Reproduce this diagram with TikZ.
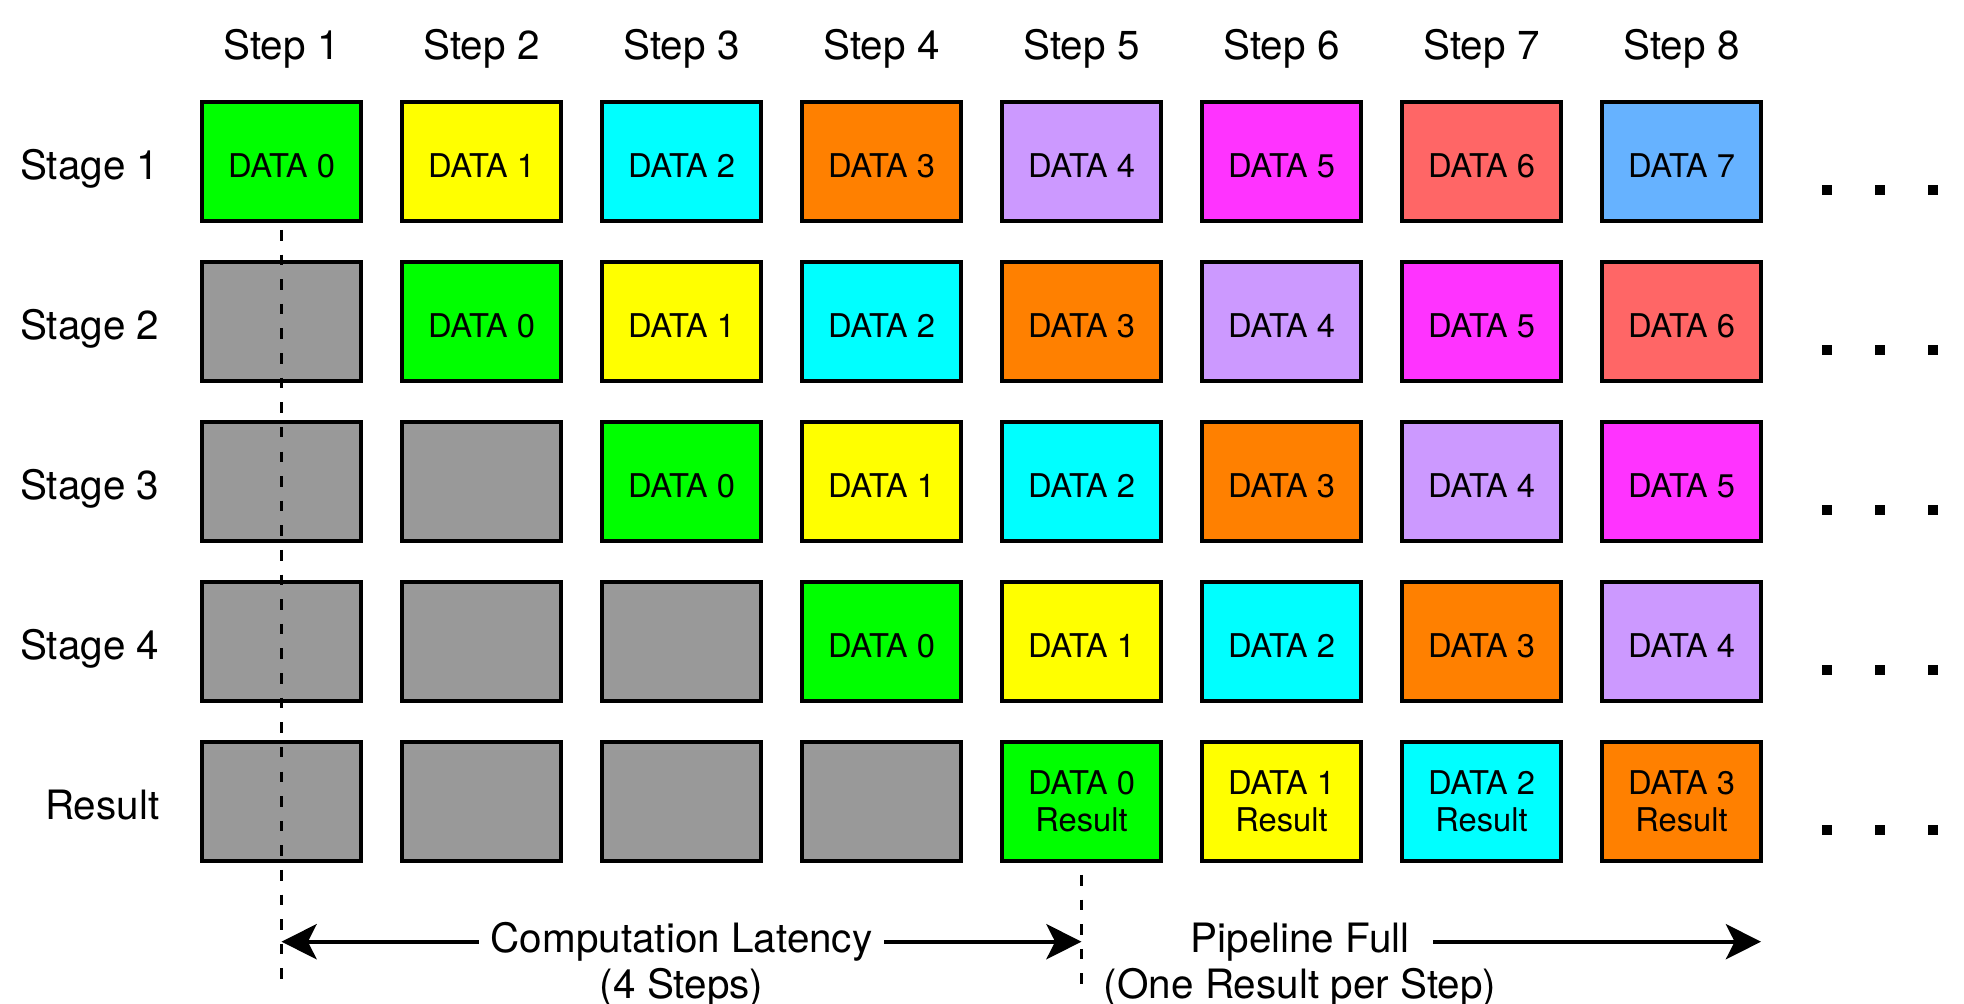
\documentclass[tikz,border=0pt]{standalone}
\usepackage{fontspec}
\setmainfont{TeX Gyre Heros}
\usetikzlibrary{arrows.meta}

\definecolor{data0}{HTML}{00FF00}
\definecolor{data1}{HTML}{FFFF00}
\definecolor{data2}{HTML}{00FFFF}
\definecolor{data3}{HTML}{FF8000}
\definecolor{data4}{HTML}{CC99FF}
\definecolor{data5}{HTML}{FF33FF}
\definecolor{data6}{HTML}{FF6666}
\definecolor{data7}{HTML}{66B2FF}
\definecolor{idle}{HTML}{999999}

\begin{document}
\begin{tikzpicture}[x=0.01cm, y=-0.01cm, line width=1.1pt,
		>={Stealth[length=10pt,width=10pt,inset=2.5pt]},
		cell/.style={draw, minimum width=1.59cm, minimum height=1.19cm, inner sep=0pt,
			align=center, font=\fontsize{9.3}{10.4}\selectfont},
		head/.style={font=\fontsize{11.5}{13.5}\selectfont},
		guide/.style={dash pattern=on 3pt off 4pt}]
		\useasboundingbox (0,0) rectangle (1964,1004);
		
		\foreach \i in {1,...,8}
			\node[head, anchor=base] (step-\i) at ({281.5+200*(\i-1)},60) {Step \i};
		
		\foreach \j/\name in {1/Stage 1,2/Stage 2,3/Stage 3,4/Stage 4,5/Result} {
			\pgfmathsetmacro{\yc}{161.5+160*(\j-1)}
			\node[head, anchor=base east] (row-\j) at (173,\yc+18.5) {\name};
			\foreach \i in {1,...,8} {
				\pgfmathsetmacro{\xc}{281.5+200*(\i-1)}
				\pgfmathtruncatemacro{\d}{\i-\j}
				\ifnum\d<0
					\node[cell, fill=idle] (box-\j-\i) at (\xc,\yc) {};
				\else
					\ifnum\j=5
						\node[cell, fill=data\d] (box-\j-\i) at (\xc,\yc) {DATA \d\\Result};
					\else
						\node[cell, fill=data\d, text height=8.9pt, text depth=0pt] (box-\j-\i) at (\xc,\yc) {DATA \d};
					\fi
				\fi
			}
			% dots to the right of each row
			\foreach \x in {1826.7,1880,1933.3}
				\fill ({\x-5},{\yc+24}) rectangle +(10,10);
		}
		
		\coordinate (lat-l) at (281.5,941.7);
		\coordinate (lat-r) at (1081.5,941.7);
		\coordinate (full-r) at (1761,941.7);
		\coordinate (cut-1) at (281.5,985);
		\coordinate (cut-5) at (1081.5,985);
		
		\draw[guide] (box-1-1.south) ++(0,7) -- (cut-1);
		\draw[guide] (box-5-5.south) ++(0,12) -- (cut-5);
		
		\draw[<->] (lat-l) -- (lat-r) node[midway, head, fill=white] (lat-txt) {Computation Latency};
		\node[head, anchor=base] (lat-sub) at ([yshift=-0.46cm]lat-txt.base) {(4 Steps)};
		
		\node[head] (full-txt) at (1300,941.7) {Pipeline Full};
		\node[head, anchor=base] (full-sub) at ([yshift=-0.46cm]full-txt.base) {(One Result per Step)};
		\draw[->] ([xshift=0.1cm]full-txt.east) -- (full-r);
		\end{tikzpicture}
\end{document}
